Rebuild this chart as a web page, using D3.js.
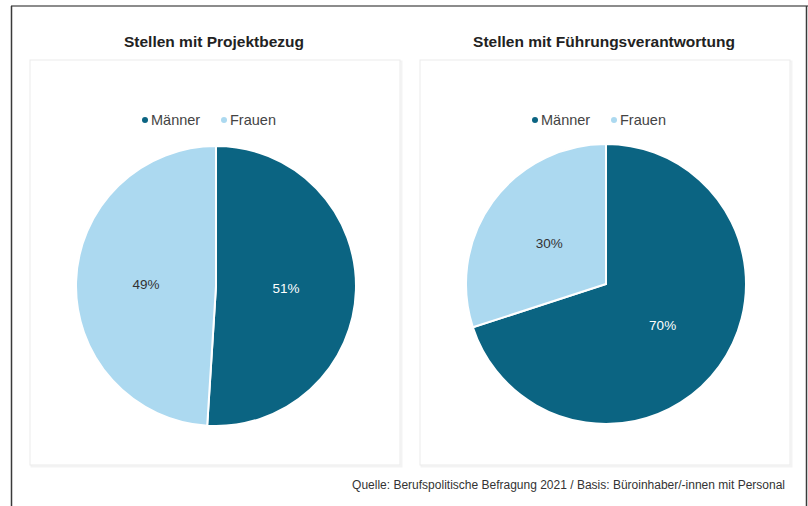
<!DOCTYPE html>
<html>
<head>
<meta charset="utf-8">
<script src="https://cdn.jsdelivr.net/npm/d3@7"></script>
<style>
  body { margin: 0; background: #fff; }
  text { font-family: "Liberation Sans", Arial, sans-serif; }
</style>
</head>
<body>
<div id="chart"></div>
<script>
const W = 808, H = 506;

// data
const categories = ["Männer", "Frauen"];
const titles = ["Stellen mit Projektbezug", "Stellen mit Führungsverantwortung"];
const projektValues = [51, 49];
const fuehrungValues = [70, 30];
const source = "Quelle: Berufspolitische Befragung 2021 / Basis: Büroinhaber/-innen mit Personal";

const colors = d3.scaleOrdinal()
  .domain(categories)
  .range(["#0b6482", "#acd9f0"]);
const labelColors = d3.scaleOrdinal()
  .domain(categories)
  .range(["#ffffff", "#333333"]);

const svg = d3.select("#chart").append("svg")
  .attr("width", W)
  .attr("height", H);

// outer frame (only top, left, right are visible)
svg.append("line").attr("x1", 11).attr("x2", W).attr("y1", 6).attr("y2", 6)
  .attr("stroke", "#8c8c8c").attr("stroke-width", 2);
svg.append("line").attr("x1", 11.5).attr("x2", 11.5).attr("y1", 6).attr("y2", H)
  .attr("stroke", "#3a3a3a").attr("stroke-width", 1.5);
svg.append("line").attr("x1", 806.5).attr("x2", 806.5).attr("y1", 6).attr("y2", H)
  .attr("stroke", "#3a3a3a").attr("stroke-width", 1.5);

const panels = [
  {title: titles[0], values: projektValues, x: 30, cx: 216, cy: 286},
  {title: titles[1], values: fuehrungValues, x: 420, cx: 606, cy: 284}
];
const panelW = 370, panelTop = 60, panelH = 405, radius = 140;

const pie = d3.pie().sort(null).value(d => d.value);
const arc = d3.arc().innerRadius(0).outerRadius(radius);
const labelArc = d3.arc().innerRadius(radius * 0.5).outerRadius(radius * 0.5);

panels.forEach(p => {
  const data = categories.map((c, i) => ({key: c, value: p.values[i]}));

  // title
  svg.append("text")
    .attr("x", p.x + panelW / 2 - 1)
    .attr("y", 47)
    .attr("text-anchor", "middle")
    .style("font-size", "15.5px")
    .style("font-weight", "bold")
    .style("fill", "#222")
    .text(p.title);

  // panel box
  svg.append("rect")
    .attr("x", p.x + 1.5).attr("y", panelTop + 1.5)
    .attr("width", panelW).attr("height", panelH)
    .attr("fill", "none").attr("stroke", "#f3f3f3").attr("stroke-width", 2);
  svg.append("rect")
    .attr("x", p.x).attr("y", panelTop)
    .attr("width", panelW).attr("height", panelH)
    .attr("fill", "#fff").attr("stroke", "#ebebeb").attr("stroke-width", 1);

  // legend
  const legend = svg.append("g")
    .attr("transform", `translate(${p.cx - 74},${panelTop + 60})`);
  const items = legend.selectAll("g")
    .data(categories)
    .enter().append("g")
      .attr("transform", (d, i) => `translate(${i * 79},0)`);
  items.append("circle")
    .attr("r", 3)
    .attr("cx", 3)
    .attr("cy", 0)
    .attr("fill", d => colors(d));
  items.append("text")
    .attr("x", 9)
    .attr("dy", "0.35em")
    .style("font-size", "14.5px")
    .style("fill", "#444")
    .text(d => d);

  // pie
  const g = svg.append("g")
    .attr("transform", `translate(${p.cx},${p.cy})`);
  g.selectAll("path")
    .data(pie(data))
    .enter().append("path")
      .attr("d", arc)
      .attr("fill", d => colors(d.data.key))
      .attr("stroke", "#fff")
      .attr("stroke-width", 2);

  g.selectAll("text")
    .data(pie(data))
    .enter().append("text")
      .attr("transform", d => `translate(${labelArc.centroid(d)})`)
      .attr("text-anchor", "middle")
      .attr("dy", "0.35em")
      .style("font-size", "13.5px")
      .style("fill", d => labelColors(d.data.key))
      .text(d => d.data.value + "%");
});

// source
svg.append("text")
  .attr("x", 785)
  .attr("y", 489)
  .attr("text-anchor", "end")
  .style("font-size", "12px")
  .style("fill", "#333")
  .text(source);
</script>
</body>
</html>
